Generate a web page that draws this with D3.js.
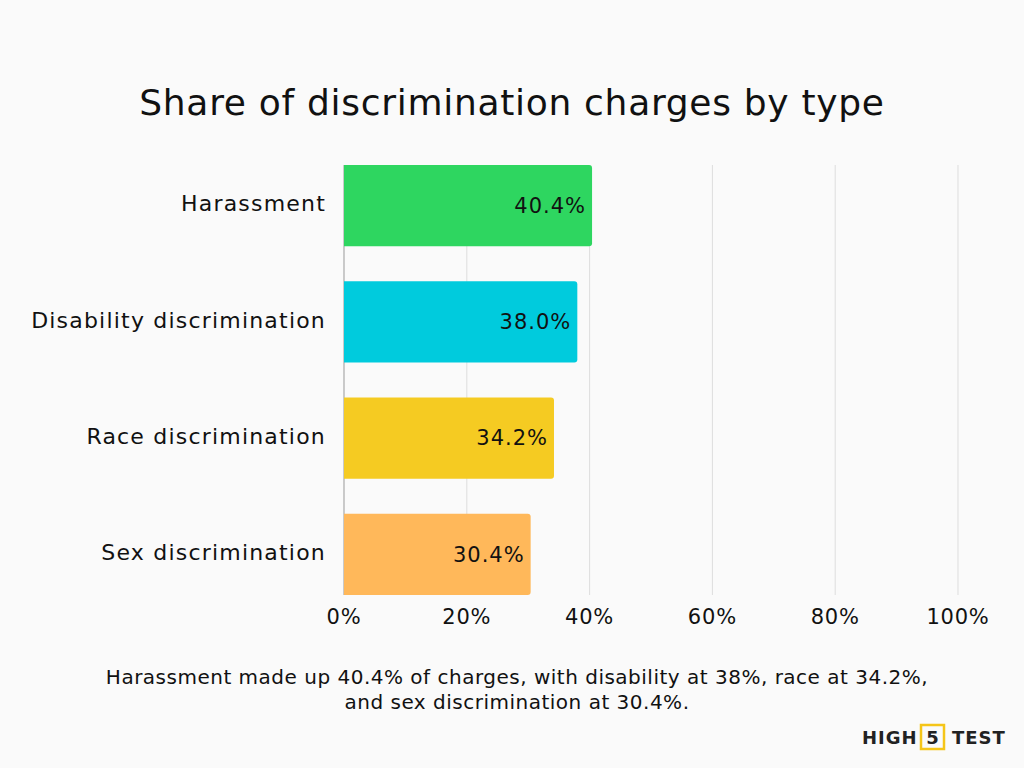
<!DOCTYPE html>
<html>
<head>
<meta charset="utf-8">
<script src="https://cdn.jsdelivr.net/npm/d3@7"></script>
<style>
  body { margin: 0; background: #fafafa; }
  svg { font-family: "DejaVu Sans", sans-serif; }
</style>
</head>
<body>
<svg width="1024" height="768"></svg>
<script>
const categories = ['Harassment', 'Disability discrimination', 'Race discrimination', 'Sex discrimination'];
const values = [40.4, 38.0, 34.2, 30.4];
const colors = ['#2ed660', '#00cbdd', '#f5cb22', '#ffb85a'];
const ticks = [0, 20, 40, 60, 80, 100];

const svg = d3.select('svg');
svg.append('rect').attr('width', 1024).attr('height', 768).attr('fill', '#fafafa');

const x = d3.scaleLinear().domain([0, 100]).range([344, 958]);
const y = d3.scaleBand().domain(categories).range([165, 595]).paddingInner(0.3).paddingOuter(0);

// title
svg.append('text')
  .attr('x', 512).attr('y', 115)
  .attr('text-anchor', 'middle')
  .attr('font-size', 36)
  .attr('letter-spacing', 0.7)
  .attr('fill', '#111')
  .text('Share of discrimination charges by type');

// grid
svg.selectAll('.grid')
  .data(ticks)
  .enter()
  .append('line')
  .attr('x1', d => x(d)).attr('x2', d => x(d))
  .attr('y1', 165).attr('y2', 595)
  .attr('stroke', d => d === 0 ? '#999' : '#ddd')
  .attr('stroke-width', 1);

// bars
svg.selectAll('.bar')
  .data(values)
  .enter()
  .append('path')
  .attr('fill', (d, i) => colors[i])
  .attr('d', (d, i) => {
    const x0 = x(0), x1 = x(d), y0 = y(categories[i]), h = y.bandwidth(), r = 3;
    return `M${x0},${y0}H${x1 - r}Q${x1},${y0} ${x1},${y0 + r}V${y0 + h - r}Q${x1},${y0 + h} ${x1 - r},${y0 + h}H${x0}Z`;
  });

// value labels
svg.selectAll('.val')
  .data(values)
  .enter()
  .append('text')
  .attr('x', d => x(d) - 6)
  .attr('y', (d, i) => y(categories[i]) + y.bandwidth() / 2)
  .attr('dy', '0.35em')
  .attr('text-anchor', 'end')
  .attr('font-size', 21)
  .attr('letter-spacing', 1)
  .attr('fill', '#111')
  .text(d => d.toFixed(1) + '%');

// category labels
svg.selectAll('.cat')
  .data(categories)
  .enter()
  .append('text')
  .attr('x', 326)
  .attr('y', d => y(d) + y.bandwidth() / 2 - 2)
  .attr('dy', '0.35em')
  .attr('text-anchor', 'end')
  .attr('font-size', 22)
  .attr('letter-spacing', 1.2)
  .attr('fill', '#111')
  .text(d => d);

// x tick labels
svg.selectAll('.tick')
  .data(ticks)
  .enter()
  .append('text')
  .attr('x', d => x(d))
  .attr('y', 617)
  .attr('dy', '0.35em')
  .attr('text-anchor', 'middle')
  .attr('font-size', 21)
  .attr('letter-spacing', 0.8)
  .attr('fill', '#111')
  .text(d => d + '%');

// note
const note = ['Harassment made up 40.4% of charges, with disability at 38%, race at 34.2%,',
  'and sex discrimination at 30.4%.'];
svg.selectAll('.note')
  .data(note)
  .enter()
  .append('text')
  .attr('x', 517)
  .attr('y', (d, i) => 684 + i * 25)
  .attr('text-anchor', 'middle')
  .attr('font-size', 20)
  .attr('letter-spacing', 0.5)
  .attr('fill', '#111')
  .text(d => d);

// logo
const logo = svg.append('g').attr('font-weight', 'bold').attr('font-size', 18).attr('fill', '#222')
  .attr('letter-spacing', 1);
logo.append('text').attr('x', 862).attr('y', 744).text('HIGH');
logo.append('rect').attr('x', 921).attr('y', 725).attr('width', 23).attr('height', 24)
  .attr('fill', 'none').attr('stroke', '#f5c518').attr('stroke-width', 2.5);
logo.append('text').attr('x', 932.5).attr('y', 744).attr('text-anchor', 'middle').attr('letter-spacing', 0).text('5');
logo.append('text').attr('x', 952).attr('y', 744).text('TEST');
</script>
</body>
</html>
